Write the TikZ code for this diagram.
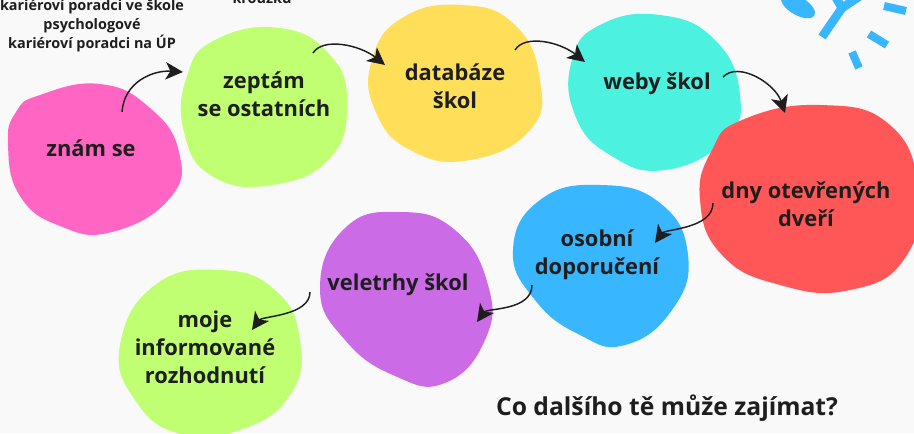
\documentclass[tikz,border=0pt]{standalone}
\usepackage{fontspec}
\setmainfont{Open Sans}
\usetikzlibrary{arrows.meta}

\definecolor{paper}{HTML}{F9F9F9}
\definecolor{pinkblob}{HTML}{FF66C4}
\definecolor{limeblob}{HTML}{C1FF72}
\definecolor{yellowblob}{HTML}{FFDE59}
\definecolor{mintblob}{HTML}{4CF2DF}
\definecolor{redblob}{HTML}{FF5757}
\definecolor{blueblob}{HTML}{38B6FF}
\definecolor{purpleblob}{HTML}{CB6CE6}
\definecolor{ink}{HTML}{1E1E1E}

\begin{document}
\begin{tikzpicture}[x=0.75pt,y=-0.75pt]
  \tikzset{
  stepbox/.style={
    align=center,
    text=ink,
    font=\fontsize{16.4}{21}\selectfont\bfseries
  },
  notebox/.style={
    align=center,
    text=ink,
    font=\fontsize{10.8}{14.3}\selectfont\bfseries
  },
  arr/.style={
    draw=ink,
    line width=1.1pt,
    -{Stealth[length=13pt,width=13pt,inset=3.5pt]}
  },
  blob/.style={
    smooth cycle,
    tension=0.8
  }
}
\fill[paper] (0,0) rectangle (914,433);
\useasboundingbox (0,0) rectangle (914,433);

% blobs
\fill[pinkblob] plot[blob] coordinates {(40,95) (100,84) (150,108) (179,152) (170,198) (112,232) (60,226) (20,196) (8,145) (16,112)};
\fill[limeblob] plot[blob] coordinates {(215,40) (280,28) (330,55) (347,103) (330,158) (272,185) (212,176) (184,132) (187,76)};
\fill[yellowblob] plot[blob] coordinates {(402,18) (462,5) (515,25) (540,80) (530,130) (470,160) (410,150) (375,110) (372,60)};
\fill[mintblob] plot[blob] coordinates {(600,25) (660,15) (715,40) (740,95) (725,140) (665,170) (610,155) (575,115) (572,60)};
\fill[redblob] plot[blob] coordinates {(742,120) (820,105) (890,125) (918,190) (905,258) (850,290) (780,285) (722,255) (700,200) (712,150)};
\fill[blueblob] plot[blob] coordinates {(540,200) (600,185) (660,203) (688,255) (672,310) (625,345) (580,335) (535,300) (513,250)};
\fill[purpleblob] plot[blob] coordinates {(345,228) (400,212) (455,230) (488,285) (485,340) (445,383) (395,376) (345,340) (320,288)};
\fill[limeblob] plot[blob] coordinates {(155,285) (220,270) (275,290) (300,340) (290,395) (240,430) (180,434) (135,400) (120,345)};

% decoration top right
\fill[blueblob, rotate around={-30:(798,6)}] (798,6) ellipse [x radius=19, y radius=9];
\draw[blueblob, line width=6.5pt] (822,37) -- (842,8) -- (835,-4);
\draw[blueblob, line width=6.5pt] (842,8) -- (860,-4);
\draw[blueblob, line width=6pt] (884,6) -- (906,11);
\draw[blueblob, line width=6pt] (869,34) -- (887,45);
\draw[blueblob, line width=6pt] (852,52) -- (859,68);

% texts
\node[notebox] (poradci) at (92,26)
  {kariéroví poradci ve škole\\psychologové\\kariéroví poradci na ÚP};
\node[notebox, anchor=base] (krouzek) at (262,3) {kroužku};
\node[stepbox] (znam) at (91,148) {znám se};
\node[stepbox] (zeptam) at (264,94) {zeptám\\se ostatních};
\node[stepbox] (databaze) at (455,86) {databáze\\škol};
\node[stepbox] (weby) at (657,84) {weby škol};
\node[stepbox] (dny) at (806,204) {dny otevřených\\dveří};
\node[stepbox] (osobni) at (597,255) {osobní\\doporučení};
\node[stepbox] (veletrhy) at (398,285) {veletrhy škol};
\node[stepbox] (moje) at (205,347) {moje\\informované\\rozhodnutí};
\node[stepbox, font=\fontsize{18.5}{21}\selectfont\bfseries] (otazka) at (667,408)
  {Co dalšího tě může zajímat?};

% arrows
\draw[arr] ([shift={(31,-36)}]znam.center) .. controls +(2,-30) and +(-30,-2) .. ([shift={(-81,-22)}]zeptam.center);
\draw[arr] ([shift={(49,-41)}]zeptam.center) .. controls +(10,-16) and +(-25,-20) .. ([shift={(-70,-21)}]databaze.center);
\draw[arr] ([shift={(60,-36)}]databaze.center) .. controls +(10,-16) and +(-25,-20) .. ([shift={(-72,-22)}]weby.center);
\draw[arr] ([shift={(66,-7)}]weby.center) .. controls +(15,-16) and +(-10,-30) .. ([shift={(-21,-91)}]dny.center);
\draw[arr] ([shift={(-93,-1)}]dny.center) .. controls +(0,26) and +(10,-14) .. ([shift={(58,-12)}]osobni.center);
\draw[arr] ([shift={(-65,30)}]osobni.center) .. controls +(0,26) and +(10,-14) .. ([shift={(79,37)}]veletrhy.center);
\draw[arr] ([shift={(-88,7)}]veletrhy.center) .. controls +(0,24) and +(10,-14) .. ([shift={(47,-17)}]moje.center);
\end{tikzpicture}
\end{document}
